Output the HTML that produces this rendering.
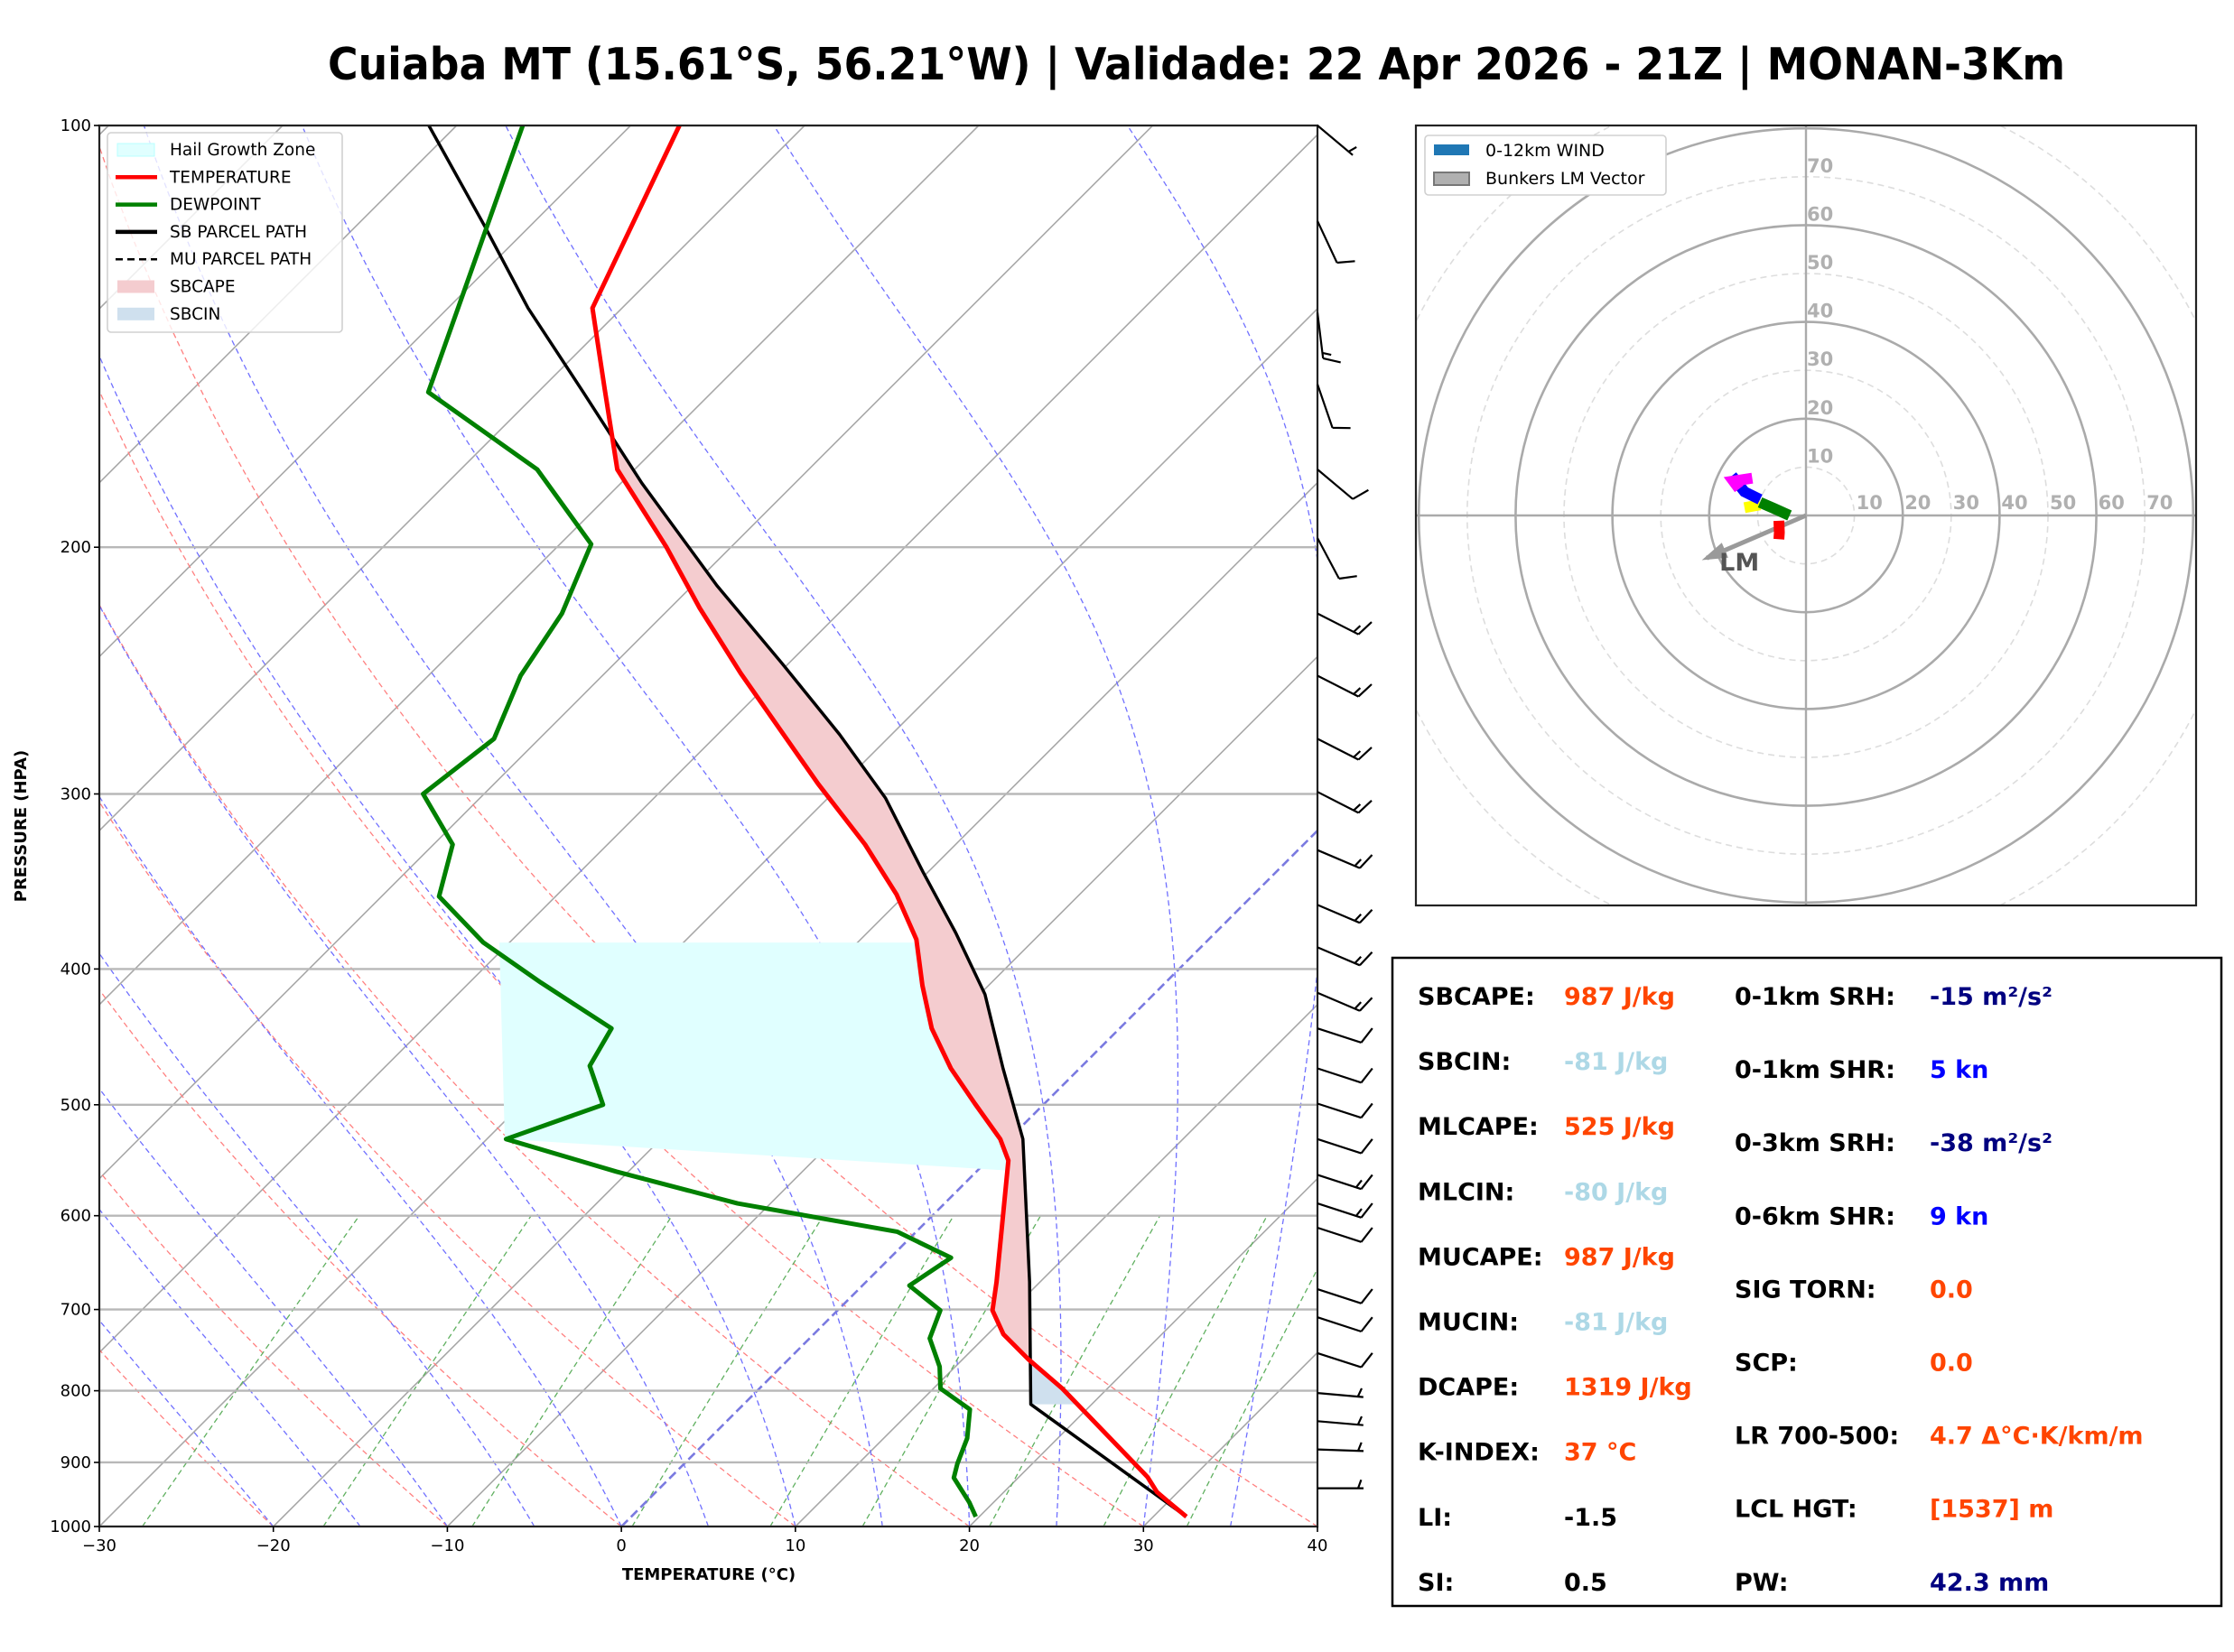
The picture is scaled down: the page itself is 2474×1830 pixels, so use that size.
<!DOCTYPE html>
<html><head><meta charset="utf-8">
<style>
html,body{margin:0;padding:0;background:#fff;}
svg{display:block;font-family:"DejaVu Sans","Liberation Sans",sans-serif;}
</style></head>
<body>
<svg id="fig" xmlns="http://www.w3.org/2000/svg" width="2474" height="1830" viewBox="0 0 2474 1830">
<rect width="2474" height="1830" fill="#fff"/>
<text x="363" y="88" font-size="49" font-weight="bold" textLength="1924" lengthAdjust="spacingAndGlyphs">Cuiaba MT (15.61°S, 56.21°W) | Validade: 22 Apr 2026 - 21Z | MONAN-3Km</text>
<defs>
<clipPath id="skclip"><rect x="110" y="139" width="1349" height="1552"/></clipPath>
<clipPath id="hclip"><rect x="1568" y="139" width="864" height="864"/></clipPath>
</defs>
<g id="skew"></g>
<g id="barbs"></g>
<g id="hodo"></g>
<g id="table">
<rect x="1542" y="1061" width="918" height="718" fill="none" stroke="#000" stroke-width="2.5"/>
</g>
</svg>
<script>
// ---------- data ----------
const tempP = [984,960,945,922,797,760,729,701,669,595,548,529,499,471,441,411,381,354,326,295,246,221,200,176,154,135,100];
const tempT = [31.9,30.0,28.8,27.4,17.4,13.8,10.9,8.9,7.5,3.8,1.2,-0.5,-4.0,-7.4,-10.8,-13.8,-16.8,-20.5,-25.2,-31.4,-42.2,-48.3,-53.7,-61.0,-66.4,-71.7,-77.2];
const dewP = [984,961,923,902,865,825,797,769,734,701,673,643,616,588,558,529,500,469,441,409,383,355,326,300,274,247,223,199,176,155,100];
const dewT = [19.8,18.6,16.3,15.7,14.8,13.3,10.4,9.1,6.9,5.9,2.7,3.5,-1.1,-11.9,-20.7,-28.9,-25.3,-28.3,-29.2,-35.9,-41.5,-46.7,-48.9,-53.5,-52.6,-54.7,-55.9,-58.2,-65.6,-76.3,-86.2];
const parcelP = [984,818,669,529,471,417,377,341,302,272,242,213,180,155,135,118,100];
const parcelT = [31.9,16.5,9.4,0.8,-4.4,-9.7,-14.9,-20.3,-26.7,-33.0,-40.4,-48.6,-58.8,-67.4,-75.4,-82.6,-91.6];
const hailP = [383, 529, 558];
const pressureTicks = [100,200,300,400,500,600,700,800,900,1000];
const tempTicks = [-30,-20,-10,0,10,20,30,40];
const barbP = [100,117,136,153,176,197,223,247,274,299,329,360,386,416,441,471,499,529,561,588,612,677,709,752,803,841,881,939];
const barbDir = [130,155,173,161,130,152,117,117,117,117,113,113,113,113,108,108,108,108,108,108,108,108,108,108,95,95,92,90];
const barbSpd = [5,10,15,10,10,10,15,15,15,15,15,15,15,15,10,10,10,10,15,15,10,10,10,10,5,5,5,5];
const hodoRedU = [-5.6,-5.5,-5.6], hodoRedV = [-1.1,-3.5,-4.9];
const hodoGreenU = [-3.4,-6.5,-9.5], hodoGreenV = [0,1.4,2.7];
const hodoYellowU = [-9.5,-12.7], hodoYellowV = [2.2,1.6];
const hodoBlueU = [-9.5,-12.7,-15.3], hodoBlueV = [3.3,4.9,8.2];
const hodoMagentaU = [-13.8,-15,-11.1], hodoMagentaV = [5.5,7.1,7.7];
const bunkersLM = [-20.5,-8.8];
const hodoRings = [10,20,30,40,50,60,70,80,90];
const hodoLabels = [10,20,30,40,50,60,70];

// ---------- helpers ----------
const NS = "http://www.w3.org/2000/svg";
function mk(tag, attrs, parent){const e=document.createElementNS(NS,tag);for(const k in attrs)e.setAttribute(k,attrs[k]);if(parent)parent.appendChild(e);return e;}
const X0=110, X1=1459, Y100=139, Y1000=1691, SX=(X1-X0)/70;
function yp(p){return Y100 + (Math.log10(p)-2)*(Y1000-Y100);}
function xs(T,p){return X0 + (T+30)*SX + (Y1000-yp(p));}
function interpLog(P,V,p){for(let i=0;i<P.length-1;i++){if(p<=P[i]&&p>=P[i+1]){const f=(Math.log(P[i])-Math.log(p))/(Math.log(P[i])-Math.log(P[i+1]));return V[i]+f*(V[i+1]-V[i]);}}return null;}
function pathFrom(pts){return pts.map((q,i)=>(i?'L':'M')+q[0].toFixed(1)+','+q[1].toFixed(1)).join('');}

const sk = document.getElementById('skew');
const clipG = mk('g',{'clip-path':'url(#skclip)'},sk);



// isotherms
for(let t=-130;t<=40;t+=10){
  if(t===0) continue;
  const l=mk('line',{x1:xs(t,1000),y1:yp(1000),x2:xs(t,100),y2:yp(100),stroke:'#a8a8a8','stroke-width':1.6},clipG);
  
  
}
// dry adiabats
for(let t0=-60;t0<=40;t0+=10){
  const th=t0+273.15, pts=[];
  for(let p=1000;p>=100;p-=10){pts.push([xs(th*Math.pow(p/1000,0.2857)-273.15,p),yp(p)]);}
  const e=mk('path',{d:pathFrom(pts),fill:'none',stroke:'#ff8080','stroke-width':1.3,'stroke-dasharray':'6,4'},clipG);
  
  
}
// moist adiabats
function es(T){return 6.112*Math.exp(17.67*T/(T+243.5));}
for(let t0=-20;t0<=45;t0+=5){
  let T=t0+273.15, pts=[[xs(t0,1000),yp(1000)]];
  for(let p=1000;p>100;p-=2){
    const pn=p-2;
    const rs=0.622*es(T-273.15)/(p-es(T-273.15));
    const dTdp=(287*T+2.5e6*rs)/(1005+(2.5e6*2.5e6*rs*0.622)/(287*T*T))/p;
    T+= dTdp*(pn-p);
    pts.push([xs(T-273.15,pn),yp(pn)]);
  }
  const e=mk('path',{d:pathFrom(pts),fill:'none',stroke:'#7070ff','stroke-width':1.3,'stroke-dasharray':'6,4'},clipG);
  
  
}
// mixing ratio lines
[0.0004,0.001,0.002,0.004,0.007,0.01,0.016,0.024,0.032].forEach(w=>{
  const pts=[];
  for(let p=1000;p>=600;p-=20){const e=w*p/(0.622+w);const L=Math.log(e/6.112);pts.push([xs(243.5*L/(17.67-L),p),yp(p)]);}
  const e=mk('path',{d:pathFrom(pts),fill:'none',stroke:'#60b060','stroke-width':1.3,'stroke-dasharray':'6,4'},clipG);
  
  
});
// 0C isotherm
const z0=mk('line',{x1:xs(0,1000),y1:yp(1000),x2:xs(0,100),y2:yp(100),stroke:'#7a7ae0','stroke-width':2.6,'stroke-dasharray':'10,5'},clipG);


// pressure grid
pressureTicks.forEach(p=>{
  const l=mk('line',{x1:X0,y1:yp(p),x2:X1,y2:yp(p),stroke:'#b8b8b8','stroke-width':2.4},clipG);
  
  
});
// hail growth zone
(function(){
  const leftX=553, pts=[[leftX,yp(hailP[0])]];
  for(let p=hailP[0];p<=hailP[2];p+=2){pts.push([xs(interpLog(tempP,tempT,p),p),yp(p)]);}
  pts.push([leftX+6,yp(hailP[1])]);
  const e=mk('path',{d:pathFrom(pts)+'Z',fill:'#e0ffff',stroke:'none'},clipG);
  
  
})();
// CAPE / CIN shading
(function(){
  const lcl=parcelP[1];
  const grid=[];for(let p=lcl;p>=100;p-=1)grid.push(p);
  let seg=[],sign=0,capeSeen=false;
  function flush(){
    if(seg.length>1){
      const isCape=sign>0;
      if(isCape||!capeSeen){
        const a=seg.map(q=>[xs(q.tp,q.p),yp(q.p)]), b=seg.slice().reverse().map(q=>[xs(q.tt,q.p),yp(q.p)]);
        const e=mk('path',{d:pathFrom(a.concat(b))+'Z',fill:isCape?'#f4cccf':'#cfe0ee',stroke:'none'},clipG);
        
        
      }
      if(isCape)capeSeen=true;
    }
    seg=[];
  }
  grid.forEach(p=>{
    const tp=interpLog(parcelP,parcelT,p), tt=interpLog(tempP,tempT,p);
    if(tp==null||tt==null)return;
    const s=tp>tt?1:-1;
    if(s!==sign){const last=seg[seg.length-1];flush();if(last)seg.push(last);sign=s;}
    seg.push({p,tp,tt});
  });
  flush();
})();
// profiles
function prof(P,T,color,w,name){
  const e=mk('path',{d:pathFrom(P.map((p,i)=>[xs(T[i],p),yp(p)])),fill:'none',stroke:color,'stroke-width':w,'stroke-linejoin':'round'},clipG);
  
  
}
prof(parcelP,parcelT,'#000',3.5,'sb-parcel-path');
prof(dewP,dewT,'#008000',5,'dewpoint-line');
prof(tempP,tempT,'#ff0000',5,'temperature-line');

// frame
const fr=mk('rect',{x:X0,y:Y100,width:X1-X0,height:Y1000-Y100,fill:'none',stroke:'#222','stroke-width':2.2},sk);


// ticks
pressureTicks.forEach(p=>{
  mk('line',{x1:X0-6,y1:yp(p),x2:X0,y2:yp(p),stroke:'#000','stroke-width':1.6},sk);
  const t=mk('text',{x:X0-9,y:yp(p)+6,'font-size':18,'text-anchor':'end'},sk);
  t.textContent=p;
  
  
});
tempTicks.forEach(v=>{
  const x=X0+(v+30)*SX;
  mk('line',{x1:x,y1:Y1000,x2:x,y2:Y1000+6,stroke:'#000','stroke-width':1.6},sk);
  const t=mk('text',{x:x,y:Y1000+27,'font-size':18,'text-anchor':'middle'},sk);
  t.textContent=(v<0?'\u2212'+(-v):v);
  
  
});
const xl=mk('text',{x:785,y:1750,'font-size':18,'font-weight':'bold','text-anchor':'middle'},sk);
xl.textContent='TEMPERATURE (°C)';


const yl=mk('text',{x:0,y:0,'font-size':18,'font-weight':'bold','text-anchor':'middle',transform:'translate(29,915) rotate(-90)'},sk);
yl.textContent='PRESSURE (HPA)';



// legend
(function(){
  const g=mk('g',{},sk);
  
  
  mk('rect',{x:119,y:147,width:260,height:221,rx:4,fill:'#fff','fill-opacity':0.8,stroke:'#d0d0d0','stroke-width':1.6},g);
  const items=[['Hail Growth Zone','patch','#e0ffff','#b8ffff'],['TEMPERATURE','line','#ff0000'],['DEWPOINT','line','#008000'],['SB PARCEL PATH','line','#000'],['MU PARCEL PATH','dash','#000'],['SBCAPE','patch','#f4cccf','none'],['SBCIN','patch','#cfe0ee','none']];
  items.forEach((it,i)=>{
    const y=166+i*30.3;
    const eg=mk('g',{},g);
    
    
    if(it[1]==='patch') mk('rect',{x:130,y:y-7,width:41,height:14,fill:it[2],stroke:it[3]},eg);
    else mk('line',{x1:128,y1:y,x2:174,y2:y,stroke:it[2],'stroke-width':it[1]==='dash'?2.5:4.5,'stroke-dasharray':it[1]==='dash'?'8,5':'none'},eg);
    const t=mk('text',{x:188,y:y+6,'font-size':18.5},eg);
    t.textContent=it[0];
  });
})();

// ---------- wind barbs ----------
(function(){
  const g=document.getElementById('barbs');
  const L=51, B=20;
  barbP.forEach((p,i)=>{
    const th=barbDir[i]*Math.PI/180;
    const sx=Math.sin(th), sy=-Math.cos(th);
    const x0=X1, y0=yp(p), x1=x0+sx*L, y1=y0+sy*L;
    const a=-70*Math.PI/180;
    const bx=sx*Math.cos(a)-sy*Math.sin(a), by=sx*Math.sin(a)+sy*Math.cos(a);
    let d=`M${x0},${y0.toFixed(1)}L${x1.toFixed(1)},${y1.toFixed(1)}`;
    let spd=barbSpd[i], pos=0;
    const full=Math.floor(spd/10), half=(spd%10)>=5?1:0;
    for(let k=0;k<full;k++){const px=x1-sx*pos,py=y1-sy*pos;d+=`M${px.toFixed(1)},${py.toFixed(1)}l${(bx*B).toFixed(1)},${(by*B).toFixed(1)}`;pos+=6;}
    if(half){if(full===0)pos=6;const px=x1-sx*pos,py=y1-sy*pos;d+=`M${px.toFixed(1)},${py.toFixed(1)}l${(bx*B/2).toFixed(1)},${(by*B/2).toFixed(1)}`;}
    const e=mk('path',{d:d,fill:'none',stroke:'#000','stroke-width':2.2},g);
    
    
  });
})();

// ---------- hodograph ----------
(function(){
  const g=document.getElementById('hodo');
  const CX=2000, CY=571, S=5.36;
  const cg=mk('g',{'clip-path':'url(#hclip)'},g);
  
  
  hodoRings.forEach(r=>{
    const solid=r%20===0;
    const c=mk('circle',{cx:CX,cy:CY,r:r*S,fill:'none',stroke:solid?'#aaaaaa':'#dddddd','stroke-width':solid?2.6:1.6,'stroke-dasharray':solid?'none':'7,5'},cg);
    
    
  });
  mk('line',{x1:1568,y1:CY,x2:2432,y2:CY,stroke:'#aaa','stroke-width':2.4},cg);
  mk('line',{x1:CX,y1:139,x2:CX,y2:1003,stroke:'#aaa','stroke-width':2.4},cg);
  hodoLabels.forEach(v=>{
    const t1=mk('text',{x:CX+v*S+2,y:CY-7,'font-size':21,'font-weight':'bold',fill:'#b0b0b0'},cg);
    t1.textContent=v;
    
    
    const t2=mk('text',{x:CX+1,y:CY-v*S-5,'font-size':21,'font-weight':'bold',fill:'#b0b0b0'},cg);
    t2.textContent=v;
    
    
  });
  // Bunkers LM
  const lx=CX+bunkersLM[0]*S, ly=CY-bunkersLM[1]*S;
  const ang=Math.atan2(ly-CY,lx-CX);
  const lm=mk('path',{d:`M${CX},${CY}L${lx},${ly}`,stroke:'#9a9a9a','stroke-width':5,fill:'none'},cg);
  
  
  const hx=lx, hy=ly, ca=Math.cos(ang), sa=Math.sin(ang);
  mk('path',{d:`M${hx+ca*6},${hy+sa*6}L${hx-ca*22-sa*9},${hy-sa*22+ca*9}L${hx-ca*22+sa*9},${hy-sa*22-ca*9}Z`,fill:'#9a9a9a'},cg);
  const lt=mk('text',{x:lx+14,y:ly+14,'font-size':27,'font-weight':'bold',fill:'#555'},cg);
  lt.textContent='LM';
  
  
  function hseg(U,V,col,name){
    const e=mk('path',{d:pathFrom(U.map((u,i)=>[CX+u*S,CY-V[i]*S])),fill:'none',stroke:col,'stroke-width':12},cg);
    
    
  }
  hseg(hodoYellowU,hodoYellowV,'#ffff00','hodograph-yellow-layer');
  hseg(hodoRedU,hodoRedV,'#ff0000','hodograph-red-layer');
  hseg(hodoGreenU,hodoGreenV,'#008000','hodograph-green-layer');
  hseg(hodoBlueU,hodoBlueV,'#0000ff','hodograph-blue-layer');
  hseg(hodoMagentaU,hodoMagentaV,'#ff00ff','hodograph-magenta-layer');
  const fr=mk('rect',{x:1568,y:139,width:864,height:864,fill:'none',stroke:'#222','stroke-width':2.2},g);
  
  
  const lg=mk('g',{},g);
  
  
  mk('rect',{x:1578,y:150,width:267,height:66,rx:4,fill:'#fff',stroke:'#d0d0d0','stroke-width':1.6},lg);
  mk('rect',{x:1588,y:160,width:39,height:12,fill:'#1f77b4'},lg);
  mk('rect',{x:1588,y:191,width:39,height:14,fill:'#b0b0b0',stroke:'#777','stroke-width':2},lg);
  const a=mk('text',{x:1645,y:173,'font-size':19},lg);a.textContent='0-12km WIND';
  const b=mk('text',{x:1645,y:204,'font-size':19},lg);b.textContent='Bunkers LM Vector';
})();

// ---------- table ----------
(function(){
  const g=document.getElementById('table');
  const left=[['SBCAPE:','987 J/kg','#ff4500'],['SBCIN:','-81 J/kg','#add8e6'],['MLCAPE:','525 J/kg','#ff4500'],['MLCIN:','-80 J/kg','#add8e6'],['MUCAPE:','987 J/kg','#ff4500'],['MUCIN:','-81 J/kg','#add8e6'],['DCAPE:','1319 J/kg','#ff4500'],['K-INDEX:','37 °C','#ff4500'],['LI:','-1.5','#000'],['SI:','0.5','#000']];
  const right=[['0-1km SRH:','-15 m²/s²','#000080'],['0-1km SHR:','5 kn','#0000ff'],['0-3km SRH:','-38 m²/s²','#000080'],['0-6km SHR:','9 kn','#0000ff'],['SIG TORN:','0.0','#ff4500'],['SCP:','0.0','#ff4500'],['LR 700-500:','4.7 Δ°C·K/km/m','#ff4500'],['LCL HGT:','[1537] m','#ff4500'],['PW:','42.3 mm','#000080']];
  left.forEach((r,i)=>{
    const y=1113+i*72.1;
    const a=mk('text',{x:1570,y:y,'font-size':27,'font-weight':'bold',fill:'#000'},g);a.textContent=r[0];
    
    
    const b=mk('text',{x:1732,y:y,'font-size':27,'font-weight':'bold',fill:r[2]},g);b.textContent=r[1];
    
    
  });
  right.forEach((r,i)=>{
    const y=1113+i*81.1;
    const a=mk('text',{x:1921,y:y,'font-size':27,'font-weight':'bold',fill:'#000'},g);a.textContent=r[0];
    
    
    const b=mk('text',{x:2137,y:y,'font-size':27,'font-weight':'bold',fill:r[2]},g);b.textContent=r[1];
    
    
  });
})();
</script>
</body></html>
